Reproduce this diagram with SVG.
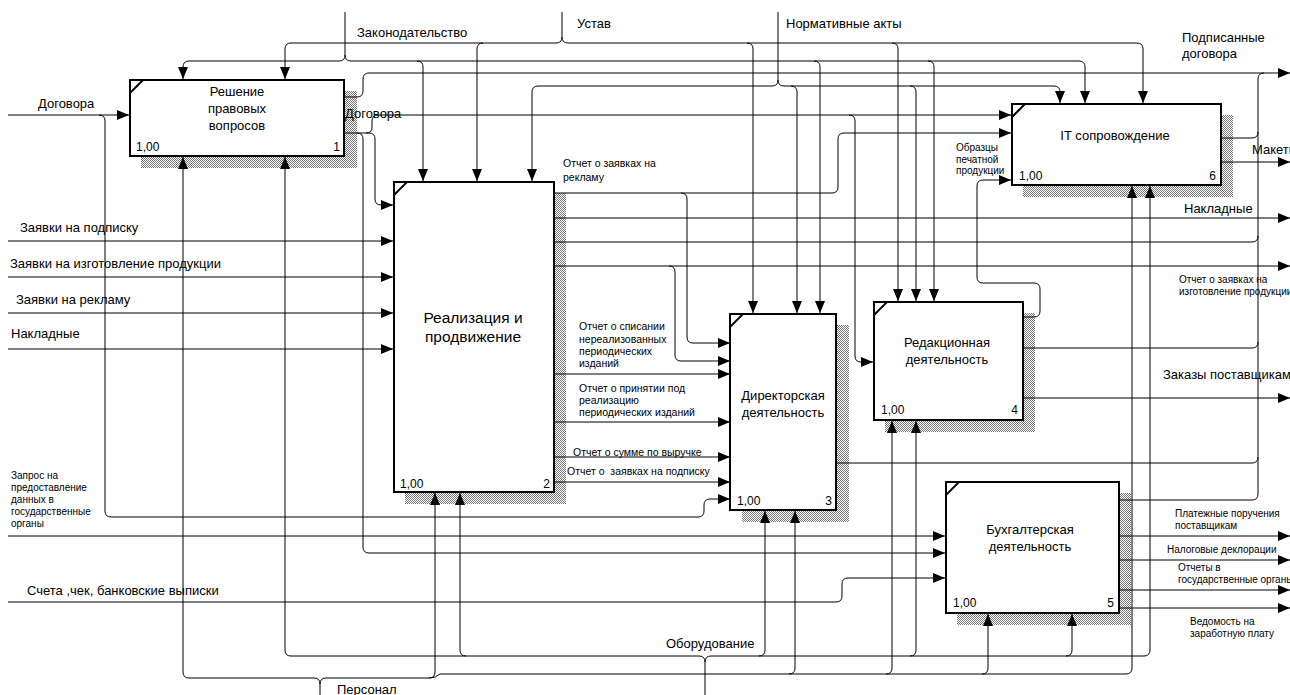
<svg xmlns="http://www.w3.org/2000/svg" width="1290" height="695" viewBox="0 0 1290 695">
<defs>
<pattern id="hatch" width="2" height="2" patternUnits="userSpaceOnUse"><rect width="2" height="2" fill="#fff"/><rect width="1" height="1" fill="#777"/><rect x="1" y="1" width="1" height="1" fill="#777"/></pattern>
<marker id="ar" markerWidth="12" markerHeight="10" refX="12" refY="5" orient="auto" markerUnits="userSpaceOnUse"><path d="M0,0 L12,5 L0,10 Z" fill="#000"/></marker>
</defs>
<style>
.c{fill:none;stroke:#000;stroke-width:1}
.a{marker-end:url(#ar)}
.box{fill:#fff;stroke:#000;stroke-width:2}
.sh{fill:url(#hatch)}
.tk{stroke:#000;stroke-width:2}
text{font-family:"Liberation Sans",Arial,sans-serif;fill:#000}
.bt{font-size:13px;text-anchor:middle}
.bn{font-size:12px}
.l{font-size:13px}
.s{font-size:10.5px}
.xs{font-size:10px}
</style>
<rect width="1290" height="695" fill="#fff"/>

<g id="node1">
<rect class="sh" x="141" y="91" width="216" height="77"/>
<rect class="box" x="130" y="80" width="214" height="76"/>
<line class="tk" x1="130" y1="93" x2="143" y2="80"/>
<text class="bt" x="237" y="96">Решение</text>
<text class="bt" x="237" y="113">правовых</text>
<text class="bt" x="237" y="130">вопросов</text>
<text class="bn" x="136" y="151">1,00</text>
<text class="bn" x="340" y="151" text-anchor="end">1</text>
</g>

<g id="node2">
<rect class="sh" x="405" y="193" width="161" height="311"/>
<rect class="box" x="394" y="182" width="160" height="310"/>
<line class="tk" x1="394" y1="195" x2="407" y2="182"/>
<text class="bt" x="473" y="323" style="font-size:15.5px">Реализация и</text>
<text class="bt" x="473" y="342" style="font-size:15.5px">продвижение</text>
<text class="bn" x="400" y="488">1,00</text>
<text class="bn" x="550" y="488" text-anchor="end">2</text>
</g>

<g id="node3">
<rect class="sh" x="742" y="325" width="107" height="197"/>
<rect class="box" x="730" y="314" width="106" height="196"/>
<line class="tk" x1="730" y1="327" x2="743" y2="314"/>
<text class="bt" x="783" y="400">Директорская</text>
<text class="bt" x="783" y="417">деятельность</text>
<text class="bn" x="737" y="505">1,00</text>
<text class="bn" x="832" y="505" text-anchor="end">3</text>
</g>

<g id="node4">
<rect class="sh" x="885" y="313" width="150" height="119"/>
<rect class="box" x="874" y="302" width="149" height="118"/>
<line class="tk" x1="874" y1="315" x2="887" y2="302"/>
<text class="bt" x="947" y="347">Редакционная</text>
<text class="bt" x="947" y="364">деятельность</text>
<text class="bn" x="881" y="414">1,00</text>
<text class="bn" x="1018" y="414" text-anchor="end">4</text>
</g>

<g id="node5">
<rect class="sh" x="957" y="493" width="174" height="132"/>
<rect class="box" x="946" y="482" width="173" height="131"/>
<line class="tk" x1="946" y1="495" x2="959" y2="482"/>
<text class="bt" x="1030" y="534">Бухгалтерская</text>
<text class="bt" x="1030" y="551">деятельность</text>
<text class="bn" x="953" y="607">1,00</text>
<text class="bn" x="1114" y="607" text-anchor="end">5</text>
</g>

<g id="node6">
<rect class="sh" x="1023" y="115" width="210" height="82"/>
<rect class="box" x="1012" y="104" width="209" height="81"/>
<line class="tk" x1="1012" y1="117" x2="1025" y2="104"/>
<text class="bt" x="1115" y="140">IT сопровождение</text>
<text class="bn" x="1019" y="180">1,00</text>
<text class="bn" x="1216" y="180" text-anchor="end">6</text>
</g>

<g id="connectors">
<!-- Законодательство -->
<path class="c a" d="M345,12 V55 Q345,61 339,61 H189 Q183,61 183,67 V79"/>
<path class="c a" d="M345,55 Q345,61 351,61 H1079 Q1085,61 1085,67 V103"/>
<path class="c a" d="M417,61 Q423,61 423,67 V181"/>
<path class="c a" d="M814,61 Q820,61 820,67 V313"/>
<path class="c a" d="M928,61 Q934,61 934,67 V301"/>
<!-- Устав -->
<path class="c a" d="M562,12 V37 Q562,43 556,43 H291 Q285,43 285,49 V79"/>
<path class="c a" d="M562,37 Q562,43 568,43 H1137 Q1143,43 1143,49 V103"/>
<path class="c a" d="M483,43 Q477,43 477,49 V181"/>
<path class="c a" d="M747,43 Q753,43 753,49 V313"/>
<path class="c a" d="M892,43 Q898,43 898,49 V301"/>
<!-- Нормативные акты -->
<path class="c a" d="M778,12 V80 Q778,86 772,86 H538 Q532,86 532,92 V181"/>
<path class="c a" d="M778,80 Q778,86 784,86 H1054 Q1060,86 1060,92 V103"/>
<path class="c a" d="M791,86 Q797,86 797,92 V313"/>
<path class="c a" d="M910,86 Q916,86 916,92 V301"/>
<!-- Box 1 outputs -->
<path class="c a" d="M345,97 H357 Q363,97 363,91 V79 Q363,73 369,73 H1290"/>
<path class="c a" d="M345,133 H357 Q363,133 363,139 V547 Q363,553 369,553 H945"/>
<path class="c a" d="M357,133 H369 Q375,133 375,139 V199 Q375,205 381,205 H393"/>
<path class="c a" d="M366,133 Q372,133 372,127 V121 Q372,115 378,115 H1011"/>
<path class="c a" d="M849,115 Q855,115 855,121 V356 Q855,362 861,362 H873"/>
<!-- Left inputs -->
<path class="c a" d="M8,115 H129"/>
<path class="c a" d="M99,115 Q105,115 105,121 V511 Q105,517 111,517 H698 Q704,517 704,511 V505 Q704,499 710,499 H730"/>
<path class="c a" d="M8,241 H393"/>
<path class="c a" d="M8,277 H393"/>
<path class="c a" d="M8,313 H393"/>
<path class="c a" d="M8,349 H393"/>
<path class="c a" d="M8,536 H945"/>
<path class="c a" d="M8,602 H836 Q842,602 842,596 V584 Q842,578 848,578 H945"/>
<!-- Box 2 outputs -->
<path class="c a" d="M554,193 H832 Q838,193 838,187 V139 Q838,133 844,133 H1011"/>
<path class="c a" d="M681,193 Q687,193 687,199 V337 Q687,343 693,343 H730"/>
<path class="c a" d="M554,218 H1290"/>
<path class="c" d="M554,242 H1252 Q1258,242 1258,236"/>
<path class="c a" d="M554,266 H1290"/>
<path class="c a" d="M669,266 Q675,266 675,272 V355 Q675,361 681,361 H730"/>
<path class="c a" d="M554,374 H730"/>
<path class="c a" d="M554,422 H730"/>
<path class="c a" d="M554,457 H730"/>
<path class="c a" d="M554,482 H730"/>
<!-- Box 3 output -->
<path class="c" d="M837,463 H1252 Q1258,463 1258,457"/>
<!-- collector -->
<path class="c" d="M1258,494 V79 Q1258,73 1264,73"/>
<!-- Box 4 outputs -->
<path class="c a" d="M1023,317 H1034 Q1040,317 1040,311 V289 Q1040,283 1034,283 H983 Q977,283 977,277 V186 Q977,180 983,180 H1011"/>
<path class="c" d="M1023,348 H1252 Q1258,348 1258,342"/>
<path class="c a" d="M1023,398 H1290"/>
<!-- Box 5 outputs -->
<path class="c" d="M1119,500 H1252 Q1258,500 1258,494"/>
<path class="c a" d="M1119,536 H1290"/>
<path class="c a" d="M1119,560 H1290"/>
<path class="c a" d="M1119,590 H1290"/>
<path class="c a" d="M1119,608 H1290"/>
<!-- Box 6 outputs -->
<path class="c" d="M1221,138 H1252 Q1258,138 1258,132"/>
<path class="c a" d="M1221,162 H1290"/>
<!-- Персонал -->
<path class="c a" d="M320,695 V684 Q320,678 314,678 H189 Q183,678 183,672 V157"/>
<path class="c a" d="M320,684 Q320,678 326,678 H429 Q435,678 435,672 V493"/>
<path class="c a" d="M429,678 Q436,678 440,674 H1126 Q1132,674 1132,668 V186"/>
<path class="c a" d="M789,674 Q795,674 795,668 V511"/>
<path class="c a" d="M886,674 Q892,674 892,668 V421"/>
<path class="c a" d="M982,674 Q988,674 988,668 V614"/>
<!-- Оборудование -->
<path class="c a" d="M705,695 V662 Q705,656 699,656 H291 Q285,656 285,650 V157"/>
<path class="c a" d="M705,662 Q705,656 711,656 H1144 Q1150,656 1150,650 V186"/>
<path class="c a" d="M466,656 Q460,656 460,650 V493"/>
<path class="c a" d="M759,656 Q765,656 765,650 V511"/>
<path class="c a" d="M910,656 Q916,656 916,650 V421"/>
<path class="c a" d="M1066,656 Q1072,656 1072,650 V614"/>
</g>

<g id="labels">
<text class="l" x="357" y="37">Законодательство</text>
<text class="l" x="577" y="28">Устав</text>
<text class="l" x="786" y="28">Нормативные акты</text>
<text class="l" x="1182" y="42">Подписанные</text>
<text class="l" x="1182" y="58">договора</text>
<text class="l" x="1252" y="154">Макеты</text>
<text class="l" x="1184" y="213">Накладные</text>
<text class="xs" x="1179" y="283">Отчет о заявках на</text>
<text class="xs" x="1179" y="295">изготовление продукции</text>
<text class="l" x="1163" y="379">Заказы поставщикам</text>
<text class="xs" x="1175" y="517">Платежные поручения</text>
<text class="xs" x="1175" y="529">поставщикам</text>
<text class="xs" x="1167" y="553">Налоговые деклорации</text>
<text class="xs" x="1178" y="571">Отчеты в</text>
<text class="xs" x="1178" y="583">государственные органы</text>
<text class="xs" x="1190" y="625">Ведомость на</text>
<text class="xs" x="1190" y="637">заработную плату</text>
<text class="l" x="38" y="108">Договора</text>
<text class="l" x="345" y="118">Договора</text>
<text class="l" x="20" y="232">Заявки на подписку</text>
<text class="l" x="10" y="268">Заявки на изготовление продукции</text>
<text class="l" x="16" y="304">Заявки на рекламу</text>
<text class="l" x="11" y="338">Накладные</text>
<text class="xs" x="11" y="479">Запрос на</text>
<text class="xs" x="11" y="491">предоставление</text>
<text class="xs" x="11" y="503">данных в</text>
<text class="xs" x="11" y="515">государственные</text>
<text class="xs" x="11" y="527">органы</text>
<text class="l" x="27" y="595">Счета ,чек, банковские выписки</text>
<text class="l" x="337" y="694">Персонал</text>
<text class="l" x="666" y="648">Оборудование</text>
<text class="s" x="563" y="167">Отчет о заявках на</text>
<text class="s" x="563" y="181">рекламу</text>
<text class="s" x="579" y="330">Отчет о списании</text>
<text class="s" x="579" y="343">нереализованных</text>
<text class="s" x="579" y="355">периодических</text>
<text class="s" x="579" y="367">изданий</text>
<text class="s" x="579" y="392">Отчет о принятии под</text>
<text class="s" x="579" y="404">реализацию</text>
<text class="s" x="579" y="416">периодических изданий</text>
<text class="s" x="573" y="456">Отчет о сумме по выручке</text>
<text class="s" x="567" y="475" xml:space="preserve">Отчет о  заявках на подписку</text>
<text class="xs" x="956" y="151">Образцы</text>
<text class="xs" x="956" y="163">печатной</text>
<text class="xs" x="956" y="174">продукции</text>
</g>
</svg>
